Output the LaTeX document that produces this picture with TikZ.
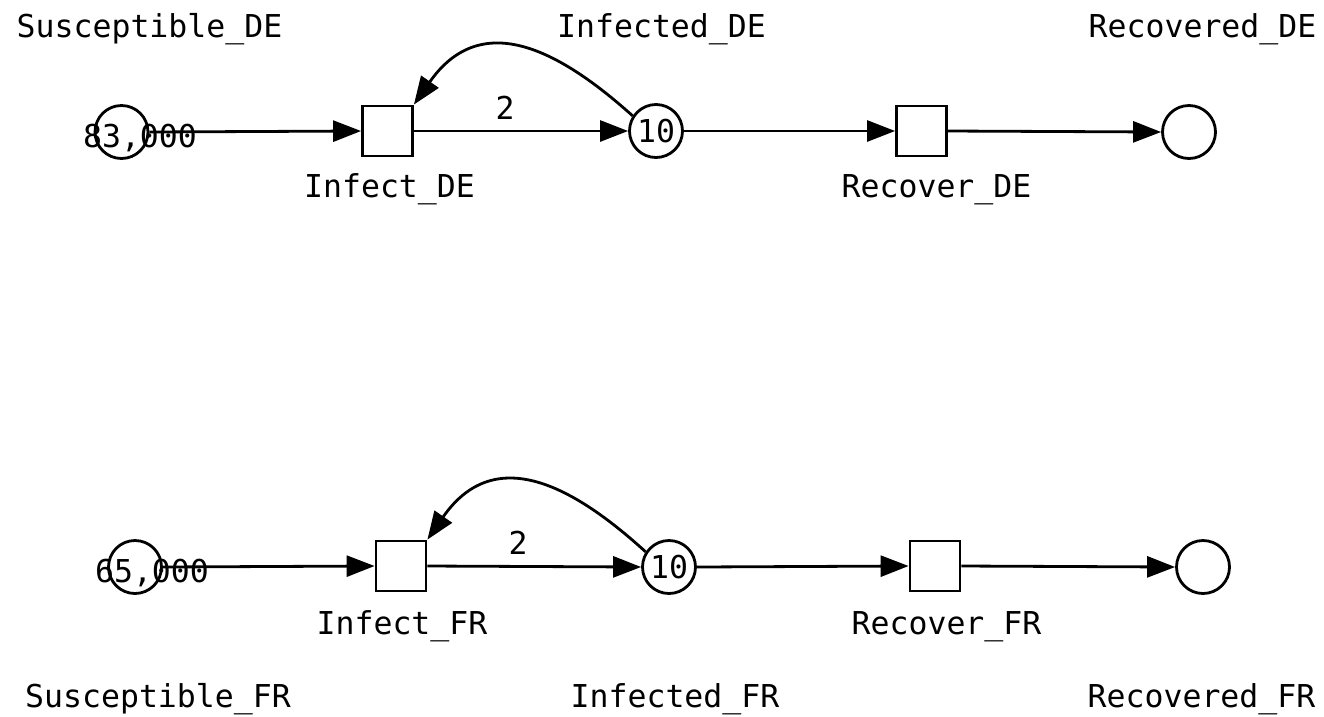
\documentclass[tikz,border=0pt]{standalone}
\usepackage{fontspec}
\setmainfont{DejaVu Sans Mono}
\usetikzlibrary{arrows.meta}
\begin{document}
\begin{tikzpicture}[x=1pt,y=-1pt,
  place/.style={circle,draw,line width=2.8pt,minimum size=53pt,inner sep=0pt,font=\fontsize{31.5}{36}\selectfont},
  trans/.style={rectangle,draw,line width=2.8pt,minimum size=50pt,inner sep=0pt},
  lbl/.style={anchor=base,inner sep=0pt,font=\fontsize{31.5}{36}\selectfont},
  tok/.style={inner sep=0pt,font=\fontsize{31.5}{36}\selectfont},
  arc/.style={line width=2.8pt,-{Triangle[length=28pt,width=21pt]}}]
\useasboundingbox (0,0) rectangle (1324,716);
% top row
\node[place] (sde) at (121.5,132) {};
\node[trans] (ide) at (387.5,131) {};
\node[place] (infde) at (656,131) {10};
\node[trans] (rde) at (921.5,131) {};
\node[place] (recde) at (1189,132) {};
\node[tok] (tsde) at (140,138) {83,000};
\node[lbl] (lsde) at (149.5,37) {Susceptible\_DE};
\node[lbl] (linfde) at (661.5,37) {Infected\_DE};
\node[lbl] (lrecde) at (1202.5,37) {Recovered\_DE};
\node[lbl] (lide) at (389.5,197) {Infect\_DE};
\node[lbl] (lrde) at (936.5,197) {Recover\_DE};
\draw[arc] (sde.east) -- (ide.west);
\draw[arc] (ide.east) -- (infde.west);
\node[tok] (wde) at (505,108) {2};
\draw[arc] (infde.east) -- (rde.west);
\draw[arc] (rde.east) -- (recde.west);
\draw[arc] (infde.147) .. controls (556,47) and (480,10) .. (ide.north east);
% bottom row
\node[place] (sfr) at (135,567) {};
\node[trans] (ifr) at (401,566) {};
\node[place] (inffr) at (669,567) {10};
\node[trans] (rfr) at (935,566) {};
\node[place] (recfr) at (1203,567) {};
\node[tok] (tsfr) at (152,573) {65,000};
\node[lbl] (lsfr) at (158,707) {Susceptible\_FR};
\node[lbl] (linffr) at (675,707) {Infected\_FR};
\node[lbl] (lrecfr) at (1201.5,707) {Recovered\_FR};
\node[lbl] (lifr) at (402,634) {Infect\_FR};
\node[lbl] (lrfr) at (946.5,634) {Recover\_FR};
\draw[arc] (sfr.east) -- (ifr.west);
\draw[arc] (ifr.east) -- (inffr.west);
\node[tok] (wfr) at (518,543) {2};
\draw[arc] (inffr.east) -- (rfr.west);
\draw[arc] (rfr.east) -- (recfr.west);
\draw[arc] (inffr.147) .. controls (569,482) and (493,445) .. (ifr.north east);
\end{tikzpicture}
\end{document}
